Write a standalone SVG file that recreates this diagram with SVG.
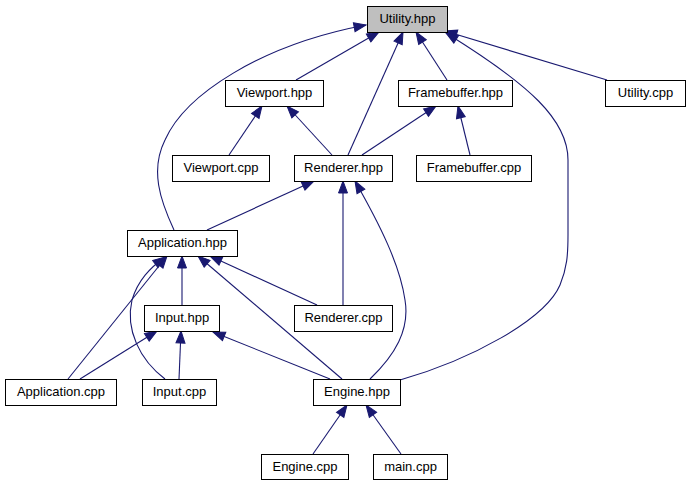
<svg xmlns="http://www.w3.org/2000/svg" width="691" height="485" viewBox="0 0 691 485">
<defs>
<style>
.n rect{fill:#fff;stroke:#000;stroke-width:1}
.n.hl rect{fill:#bfbfbf}
.n text{font-family:"Liberation Sans",Arial,sans-serif;font-size:13px;fill:#000;text-anchor:middle}
.e path{fill:none;stroke:#191970;stroke-width:1.1;marker-end:url(#a)}
</style>
<marker id="a" markerUnits="userSpaceOnUse" markerWidth="12" markerHeight="9" refX="12" refY="4.5" orient="auto" overflow="visible">
<path d="M0,0 L12,4.5 L0,9 z" fill="#191970" stroke="#191970" stroke-width="1"/>
</marker>
</defs>
<rect width="691" height="485" fill="#fff"/>
<g id="edges" class="e">
<path d="M174,230 C160,200 150,170 165,140 C185,95 260,45 366,25"/>
<path d="M296,80 L379,32"/>
<path d="M348,155 L403,32"/>
<path d="M447,80 L416,32"/>
<path d="M607,80 L445,31"/>
<path d="M400,380 C470,360 545,320 560,285 C567,268 568,255 568,235 L568,160 C568,120 530,85 446,33"/>
<path d="M229,155 L262,106"/>
<path d="M332,155 L287,106"/>
<path d="M362,155 L436,106"/>
<path d="M470,155 L458,106"/>
<path d="M207,230 L314,181"/>
<path d="M343,305 L343,181"/>
<path d="M370,379 C395,355 410,330 405,300 C400,265 380,225 355,181"/>
<path d="M182,305 L182,256"/>
<path d="M68,379 L167,256"/>
<path d="M165,379 C140,360 125,330 132,300 C138,280 150,268 165,257"/>
<path d="M342,379 L198,256"/>
<path d="M317,305 L210,256"/>
<path d="M80,379 L157,331"/>
<path d="M179,379 L181,331"/>
<path d="M330,379 L213,332"/>
<path d="M313,454 L347,405"/>
<path d="M401,454 L366,405"/>
</g>
<g id="utility_hpp" class="n hl"><rect x="367.5" y="6.5" width="80" height="26"/><text x="407.5" y="23">Utility.hpp</text></g>
<g id="viewport_hpp" class="n"><rect x="225.5" y="80.5" width="98" height="26"/><text x="274.5" y="97">Viewport.hpp</text></g>
<g id="framebuffer_hpp" class="n"><rect x="398.5" y="80.5" width="114" height="26"/><text x="455.5" y="97">Framebuffer.hpp</text></g>
<g id="utility_cpp" class="n"><rect x="605.5" y="80.5" width="80" height="26"/><text x="645.5" y="97">Utility.cpp</text></g>
<g id="viewport_cpp" class="n"><rect x="172.5" y="155.5" width="97" height="26"/><text x="221" y="172">Viewport.cpp</text></g>
<g id="renderer_hpp" class="n"><rect x="294.5" y="155.5" width="98" height="26"/><text x="343.5" y="172">Renderer.hpp</text></g>
<g id="framebuffer_cpp" class="n"><rect x="416.5" y="155.5" width="115" height="26"/><text x="474" y="172">Framebuffer.cpp</text></g>
<g id="application_hpp" class="n"><rect x="127.5" y="230.5" width="110" height="26"/><text x="182.5" y="247">Application.hpp</text></g>
<g id="input_hpp" class="n"><rect x="144.5" y="305.5" width="75" height="26"/><text x="182" y="322">Input.hpp</text></g>
<g id="renderer_cpp" class="n"><rect x="294.5" y="305.5" width="98" height="26"/><text x="343.5" y="322">Renderer.cpp</text></g>
<g id="application_cpp" class="n"><rect x="5.5" y="379.5" width="111" height="26"/><text x="61" y="396">Application.cpp</text></g>
<g id="input_cpp" class="n"><rect x="142.5" y="379.5" width="74" height="26"/><text x="179.5" y="396">Input.cpp</text></g>
<g id="engine_hpp" class="n"><rect x="313.5" y="379.5" width="87" height="26"/><text x="357" y="396">Engine.hpp</text></g>
<g id="engine_cpp" class="n"><rect x="261.5" y="454.5" width="87" height="25"/><text x="305" y="471">Engine.cpp</text></g>
<g id="main_cpp" class="n"><rect x="373.5" y="454.5" width="74" height="25"/><text x="410.5" y="471">main.cpp</text></g>
</svg>
